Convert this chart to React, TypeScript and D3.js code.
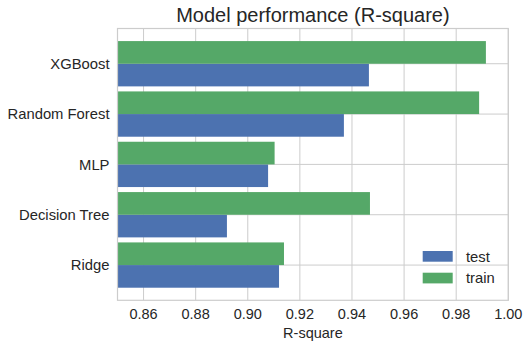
import React from "react";
import * as d3 from "d3";

const categories = ["Ridge", "Decision Tree", "MLP", "Random Forest", "XGBoost"];
const testValues = [0.912, 0.892, 0.9078, 0.9369, 0.9465];
const trainValues = [0.9139, 0.9469, 0.9103, 0.9888, 0.9914];
const xTicks = [0.86, 0.88, 0.9, 0.92, 0.94, 0.96, 0.98, 1.0];
const seriesNames = ["test", "train"];
const seriesColors = ["#4C72B0", "#55A868"];

export default function App() {
  const W = 529, H = 346;
  const left = 117.5, right = 508.3, top = 28.5, bottom = 300.3;
  const x = d3.scaleLinear().domain([0.85, 1.0]).range([left, right]);
  const y = d3.scaleLinear().domain([-0.7, 4.7]).range([bottom, top]);
  const barH = 0.45;
  const font = "'Liberation Sans', Arial, sans-serif";
  const textColor = "#262626";
  const grid = "#cccccc";

  return (
    <svg width={W} height={H} style={{ position: "absolute", left: 0, top: 0, background: "#fff" }} fontFamily={font}>
      <rect x={0} y={0} width={W} height={H} fill="#fff" />
      {xTicks.map((t) => (
        <line key={"gx" + t} x1={x(t)} x2={x(t)} y1={top} y2={bottom} stroke={grid} strokeWidth={1} />
      ))}
      {categories.map((c, i) => (
        <line key={"gy" + c} x1={left} x2={right} y1={y(i)} y2={y(i)} stroke={grid} strokeWidth={1} />
      ))}
      {categories.map((c, i) => (
        <g key={"b" + c}>
          <rect x={x(0.85)} y={y(i)} width={x(testValues[i]) - x(0.85)} height={y(i - barH) - y(i)} fill={seriesColors[0]} />
          <rect x={x(0.85)} y={y(i + barH)} width={x(trainValues[i]) - x(0.85)} height={y(i) - y(i + barH)} fill={seriesColors[1]} />
        </g>
      ))}
      <rect x={left} y={top} width={right - left} height={bottom - top} fill="none" stroke={grid} strokeWidth={1.2} />
      {xTicks.map((t) => (
        <text key={"tx" + t} x={x(t)} y={318.5} textAnchor="middle" fontSize={14.5} fill={textColor}>
          {d3.format(".2f")(t)}
        </text>
      ))}
      {categories.map((c, i) => (
        <text key={"ty" + c} x={109.5} y={y(i) + 5.2} textAnchor="end" fontSize={14.8} fill={textColor}>
          {c}
        </text>
      ))}
      <text x={(left + right) / 2} y={338} textAnchor="middle" fontSize={14.5} fill={textColor}>R-square</text>
      <text x={(left + right) / 2} y={21.7} textAnchor="middle" fontSize={20} fill={textColor}>Model performance (R-square)</text>
      {seriesNames.map((s, i) => (
        <g key={"lg" + s}>
          <rect x={422.7} y={251 + i * 21.7} width={30} height={10.7} fill={seriesColors[i]} />
          <text x={466} y={261.7 + i * 21.7} fontSize={14.8} fill={textColor}>{s}</text>
        </g>
      ))}
    </svg>
  );
}
